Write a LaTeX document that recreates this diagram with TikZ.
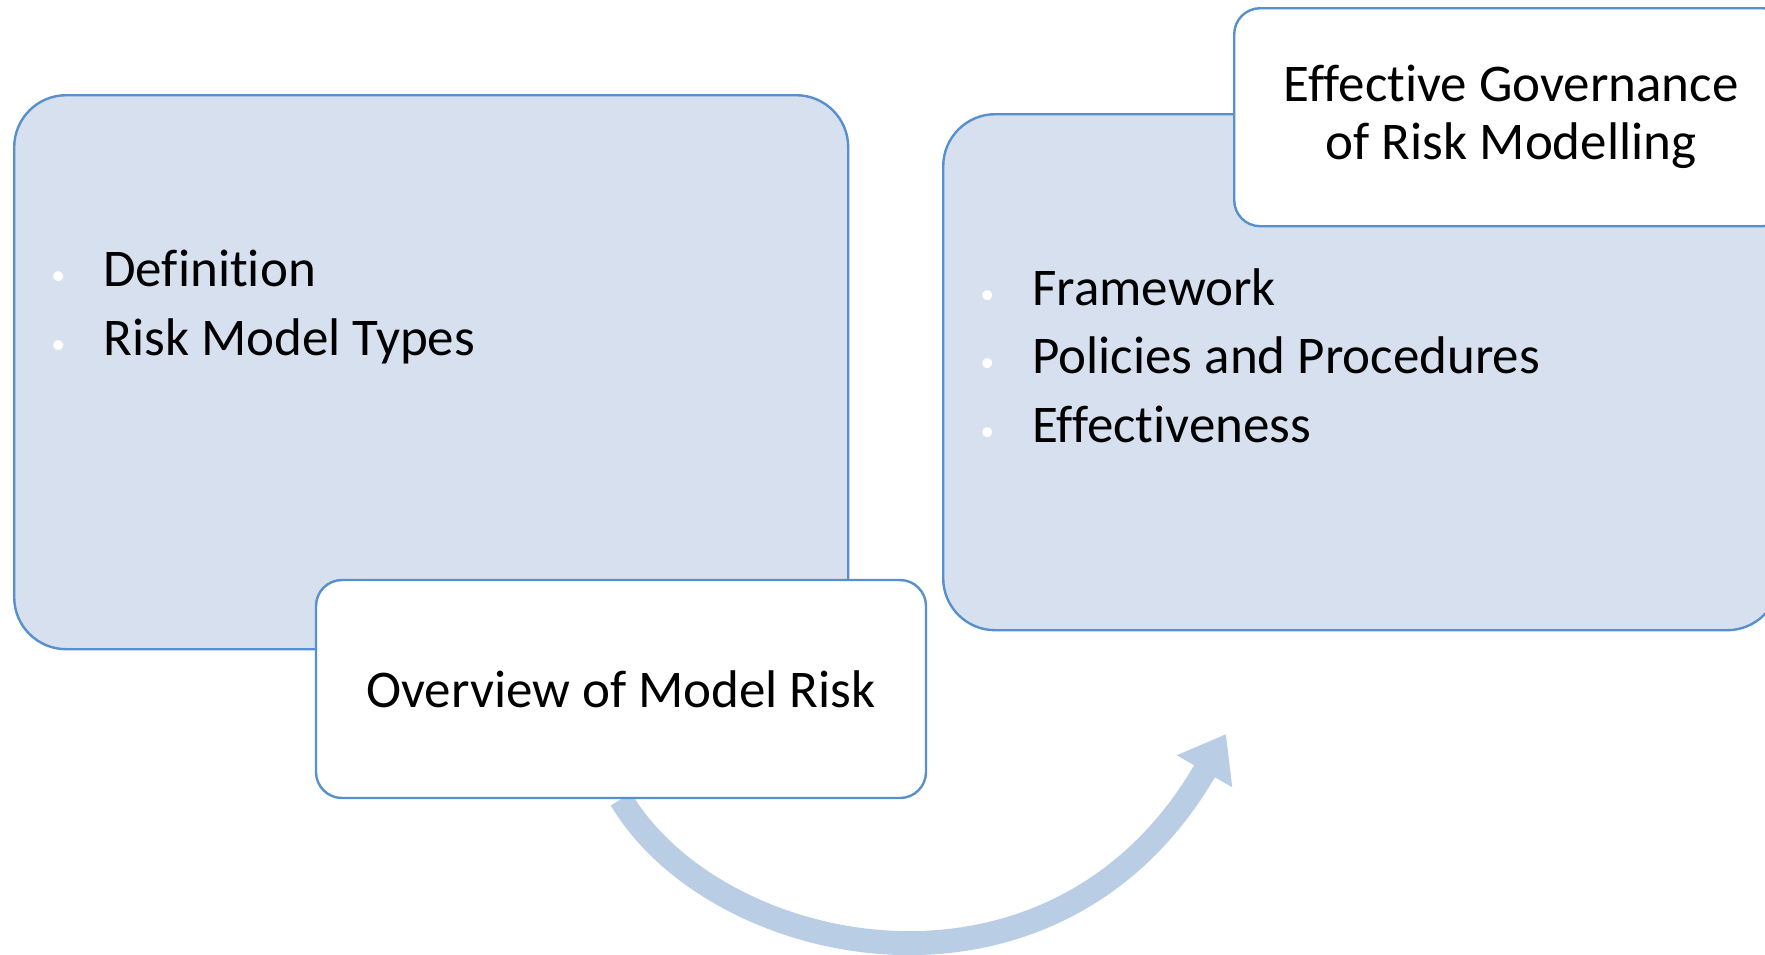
\documentclass[tikz,border=0pt]{standalone}
\usepackage{fontspec}
\setmainfont{Carlito}[Ligatures={NoCommon}]
\usetikzlibrary{positioning,arrows.meta,backgrounds}
\definecolor{boxfill}{RGB}{214,224,238}
\definecolor{boxline}{RGB}{88,143,205}
\definecolor{arrowfill}{RGB}{185,205,229}
\newcommand{\bul}{\makebox[6pt]{\textcolor{white}{\fontsize{14}{14}\selectfont\raisebox{1pt}{•}}}\hspace{19.5pt}}

\begin{document}
\begin{tikzpicture}[x=0.5pt,y=-0.5pt,
    bigbox/.style={draw=boxline, fill=boxfill, line width=1.2pt, rounded corners=26pt, anchor=north west, inner sep=0pt},
    tagbox/.style={draw=boxline, fill=white, line width=1.2pt, rounded corners=13pt, inner sep=0pt,
      minimum width=305pt, minimum height=109pt, align=center, font=\fontsize{26.5}{29}\selectfont},
    item/.style={anchor=base west, inner sep=0pt, font=\fontsize{26.5}{30}\selectfont}]
  \useasboundingbox (0,0) rectangle (1765,954);
  \node[bigbox, minimum width=417pt, minimum height=277pt] (riskbody) at (13,94) {};
  \node[item] (def) at (52,286) {\bul Definition};
  \node[item] (types) at (52,355) {\bul Risk Model Types};
  \node[tagbox] (overview) at (621,689) {Overview of Model Risk};
  \node[bigbox, minimum width=418pt, minimum height=258pt] (govbody) at (942,113) {};
  \node[item] (frame) at (981,305) {\bul Framework};
  \node[item] (policies) at (981,373) {\bul Policies and Procedures};
  \node[item] (effect) at (981,442) {\bul Effectiveness};
  \node[tagbox, minimum width=277pt, anchor=north west] (govtag) at (1233,7) {Effective Governance\\of Risk Modelling};
  \coordinate (tip) at (1226,734);
  \begin{scope}[on background layer]
    \draw[arrowfill, line width=12pt, -{Triangle[length=21.5pt,width=30.5pt]}]
      (overview.south) .. controls +(95,160) and +(-172,298) .. (tip);
  \end{scope}
\end{tikzpicture}
\end{document}
